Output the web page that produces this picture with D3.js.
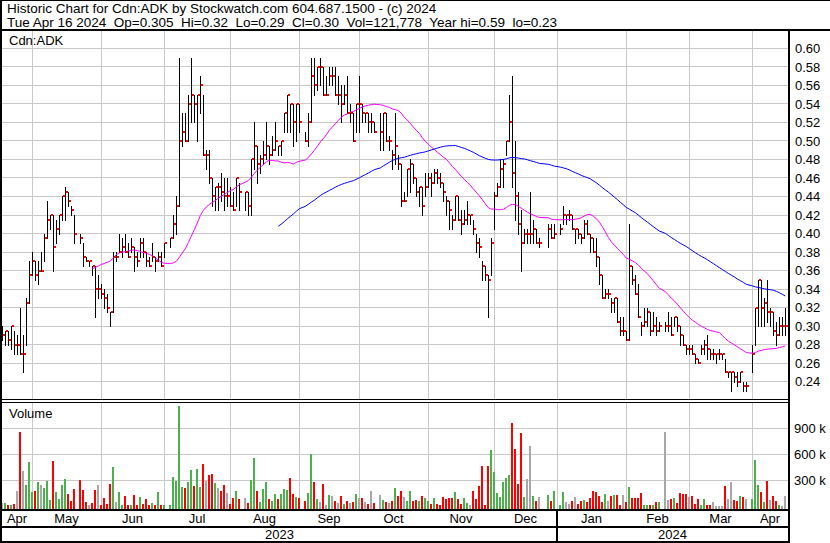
<!DOCTYPE html>
<html><head><meta charset="utf-8">
<script src="https://cdn.jsdelivr.net/npm/d3@7"></script>
<style>
body{margin:0;background:#fff}
svg{display:block}
text{font-family:Arial,"Liberation Sans",sans-serif;fill:#000}
</style>
</head><body><svg id="c" width="830" height="543"></svg>
<script>
// ---------------- DATA ----------------
const startDate = "2023-04-17"; // first trading weekday shown
const high = [
.30,.295,.295,.30,.295,.29,.32,.29,.33,.37,
.38,.37,.37,.38,.40,.435,.42,.42,.415,.42,
.44,.45,.445,.43,.42,null,.40,.39,.375,.37,
.365,.365,.355,.345,.34,.335,.315,.38,.38,.40,
.395,.40,.39,.395,.385,.38,.395,.395,.38,.375,
.39,.375,.38,.38,.39,null,.395,.42,.44,.59,
.53,.53,.55,.59,.55,.55,.57,.55,.49,.49,
.46,.45,.455,.465,.46,.46,.45,.445,.46,.455,
null,.445,.445,.48,.52,.495,.485,.50,.52,.495,
.505,.52,.495,.50,.53,.55,.54,.54,.54,.54,
null,.51,.53,.59,.59,.58,.59,.58,.57,.58,
.58,.58,.57,.56,.56,.57,.54,.53,.54,.57,
.54,.53,.53,.53,.52,null,.53,.53,.53,.505,
.49,.53,.485,.475,.445,.47,.48,.475,.46,.45,
.45,.465,.465,.465,.47,.47,.465,.455,.44,.435,
.42,.44,.44,.425,.425,.435,.42,.415,.40,.395,
.37,.365,.355,.395,.445,.455,.48,.48,.50,.55,
.57,.50,.445,.425,.405,.405,.445,.415,.405,.395,
null,null,.41,.41,.41,null,.41,.43,.42,.425,
.42,.405,.405,.40,.415,.415,.40,.395,.395,.375,
.355,.34,.34,.33,.33,.33,.31,.31,.295,.41,
.365,.355,.345,.305,.32,.32,.315,.315,.31,.305,
null,.305,.315,.31,.31,.31,.30,.29,.28,.28,
.28,.27,.265,.28,.285,.29,.275,.275,.27,.275,
.27,.265,.25,.25,.25,.25,.25,.24,.24,null,
.28,.32,.35,.35,.33,.35,.32,.315,.305,.31,
.31,.32];
const low = [
.285,.28,.28,.275,.27,.27,.27,.25,.28,.325,
.355,.35,.345,.36,.37,.395,.405,.36,.39,.40,
.415,.415,.43,.42,.39,null,.39,.365,.37,.365,
.355,.31,.33,.33,.32,.315,.30,.315,.37,.38,
.375,.38,.375,.38,.36,.365,.375,.375,.365,.365,
.37,.36,.37,.365,.375,null,.385,.395,.40,.43,
.495,.50,.50,.52,.52,.50,.53,.485,.47,.455,
.43,.425,.425,.435,.425,.43,.43,.425,.43,.425,
null,.425,.42,.42,.47,.455,.465,.475,.48,.475,
.485,.49,.485,.485,.51,.51,.51,.495,.50,.51,
null,.50,.495,.52,.55,.555,.56,.55,.55,.56,
.56,.55,.54,.52,.54,.53,.52,.50,.51,.51,
.52,.52,.51,.51,.51,null,.49,.49,.50,.49,
.47,.475,.47,.43,.435,.44,.445,.455,.44,.43,
.42,.44,.45,.44,.455,.455,.45,.435,.42,.405,
.405,.415,.415,.40,.41,.41,.41,.40,.38,.375,
.35,.35,.31,.355,.405,.44,.45,.45,.485,.50,
.45,.415,.40,.36,.39,.39,.39,.39,.39,.385,
null,null,.385,.395,.395,null,.40,.41,.41,.415,
.405,.39,.395,.39,.395,.40,.38,.38,.365,.345,
.33,.33,.33,.315,.315,.305,.29,.29,.285,.285,
.345,.335,.31,.29,.30,.30,.29,.295,.29,.295,
null,.295,.295,.29,.30,.295,.28,.28,.27,.27,
.27,.26,.26,.27,.27,.265,.265,.265,.26,.265,
.265,.25,.245,.23,.24,.235,.24,.23,.23,null,
.25,.28,.30,.30,.30,.305,.30,.29,.28,.29,
.29,.29];
const close = [
.29,.295,.285,.30,.28,.28,.27,.27,.325,.355,
.37,.355,.36,.36,.395,.415,.42,.385,.405,.42,
.44,.445,.435,.425,.40,null,.395,.375,.37,.37,
.365,.34,.34,.335,.33,.32,.315,.375,.375,.38,
.385,.38,.375,.385,.375,.37,.39,.38,.37,.365,
.375,.37,.375,.365,.39,null,.395,.41,.43,.50,
.51,.50,.54,.55,.54,.55,.56,.485,.485,.46,
.44,.45,.45,.445,.44,.44,.43,.425,.46,.445,
null,.445,.43,.48,.495,.475,.48,.485,.495,.485,
.49,.50,.495,.50,.53,.55,.54,.52,.54,.52,
null,.50,.52,.57,.56,.58,.58,.55,.55,.57,
.57,.55,.55,.54,.55,.53,.53,.50,.54,.54,
.53,.53,.52,.52,.51,null,.51,.53,.50,.50,
.485,.495,.475,.435,.435,.47,.475,.46,.445,.45,
.43,.45,.46,.455,.465,.46,.455,.445,.435,.425,
.415,.44,.415,.41,.415,.42,.42,.405,.39,.385,
.365,.355,.35,.39,.44,.45,.47,.475,.50,.52,
.465,.44,.41,.39,.40,.40,.40,.405,.39,.39,
null,null,.405,.395,.40,null,.405,.42,.42,.42,
.405,.405,.40,.395,.41,.40,.395,.38,.375,.355,
.33,.335,.335,.325,.33,.305,.295,.295,.285,.365,
.35,.335,.31,.30,.305,.315,.295,.30,.295,.30,
null,.30,.30,.29,.31,.30,.29,.28,.275,.275,
.27,.265,.26,.275,.28,.275,.27,.27,.27,.27,
.27,.25,.25,.25,.245,.24,.25,.235,.235,null,
.27,.32,.35,.32,.325,.315,.315,.295,.29,.30,
.30,.30];
const volumeK = [
35,35,12,10,30,177,862,408,246,512,
165,177,277,246,212,292,73,523,165,85,
246,315,142,62,200,null,304,188,50,15,
38,188,246,15,96,27,258,454,50,165,
15,119,10,10,131,10,108,27,85,10,
38,20,165,20,10,null,20,338,292,1158,
223,212,281,419,235,431,223,488,292,362,
373,269,212,177,246,154,27,96,177,85,
null,96,38,304,558,177,50,200,281,85,
62,142,85,142,200,188,327,142,108,96,
null,62,154,604,281,85,50,258,10,131,
119,62,38,119,27,62,38,50,142,96,
96,50,27,177,38,null,131,73,50,38,
62,212,119,177,108,62,177,62,73,62,
119,96,62,27,96,27,12,108,85,96,
96,165,85,30,96,38,15,177,85,235,
465,12,465,650,396,154,108,281,327,362,
962,662,258,846,108,315,696,119,62,108,
null,null,131,62,177,null,12,165,50,27,
62,108,27,62,73,50,96,177,165,119,
50,142,62,119,131,131,12,131,50,223,
96,96,96,154,15,12,15,12,50,50,
null,854,73,85,96,38,154,142,142,108,
119,27,85,12,85,15,12,50,8,8,
8,235,85,281,73,62,119,108,85,null,
85,535,246,165,53,292,73,119,61,15,
8,121.778];
const maPeriods = [30, 90];
const monthNames = ["Apr","May","Jun","Jul","Aug","Sep","Oct","Nov","Dec","Jan","Feb","Mar","Apr"];
const monthStarts = ["2023-05-01","2023-06-01","2023-07-01","2023-08-01","2023-09-01","2023-10-01","2023-11-01","2023-12-01","2024-01-01","2024-02-01","2024-03-01","2024-04-01"];
const yearNames = ["2023","2024"];
const priceTicks = [0.24,0.26,0.28,0.30,0.32,0.34,0.36,0.38,0.40,0.42,0.44,0.46,0.48,0.50,0.52,0.54,0.56,0.58,0.60];
const volTicks = [300000,600000,900000];
const header1 = "Historic Chart for Cdn:ADK by Stockwatch.com 604.687.1500 - (c) 2024";
const header2 = "Tue Apr 16 2024  Op=0.305  Hi=0.32  Lo=0.29  Cl=0.30  Vol=121,778  Year hi=0.59  lo=0.23";
const symbolLabel = "Cdn:ADK";
const volumeLabel = "Volume";

// ---------------- CHART ----------------
const svg = d3.select("#c");
const n = close.length;
const parse = d3.timeParse("%Y-%m-%d");
const dates = [];
for (let d = parse(startDate); dates.length < n; d = d3.timeDay.offset(d, 1)) {
  const wd = d.getDay(); if (wd !== 0 && wd !== 6) dates.push(d);
}
const x = d3.scaleLinear().domain([0, n - 1]).range([2.3, 2.3 + 3 * (n - 1)]);
const col = i => Math.floor(x(i));
const y = d3.scaleLinear().domain([0.24, 0.60]).range([381.7, 48.3]);
const yv = d3.scaleLinear().domain([0, 900000]).range([506.3, 428.3]);
const GRID = "#c8c8c8";
const RIGHT = 788;

// month boundaries: last weekday on/before the 1st of each month
const bIdx = monthStarts.map(s => d3.bisectRight(dates, parse(s)) - 1);
const bCols = bIdx.map(col);

const grid = svg.append("g").attr("stroke", GRID).attr("stroke-width", 1).attr("shape-rendering", "crispEdges");
priceTicks.forEach(t => {
  const yy = Math.floor(y(t)) + 0.5;
  grid.append("line").attr("x1", 2).attr("x2", RIGHT).attr("y1", yy).attr("y2", yy);
});
volTicks.forEach(v => {
  const yy = Math.floor(yv(v)) + 0.5;
  grid.append("line").attr("x1", 2).attr("x2", RIGHT).attr("y1", yy).attr("y2", yy);
});
bCols.forEach(c => {
  grid.append("line").attr("x1", c + 0.5).attr("x2", c + 0.5).attr("y1", 31).attr("y2", 399);
  grid.append("line").attr("x1", c + 0.5).attr("x2", c + 0.5).attr("y1", 403).attr("y2", 509);
});

// volume bars
const idx = d3.range(n).filter(i => close[i] != null);
const prevClose = {};
idx.forEach((i, k) => { prevClose[i] = k > 0 ? close[idx[k - 1]] : close[i]; });
const volColor = i => close[i] > prevClose[i] + 1e-9 ? "#4cb04c" : (close[i] < prevClose[i] - 1e-9 ? "#ff0000" : "#a8a8a8");
svg.append("g").attr("shape-rendering", "crispEdges").selectAll("rect").data(idx).join("rect")
  .attr("x", i => col(i) - 1).attr("width", 2)
  .attr("y", i => Math.max(403, Math.round(yv(volumeK[i] * 1000))))
  .attr("height", i => 509 - Math.max(403, Math.round(yv(volumeK[i] * 1000))))
  .attr("fill", volColor);

// price bars (high-low)
svg.append("g").attr("shape-rendering", "crispEdges").selectAll("rect").data(idx).join("rect")
  .attr("x", i => col(i)).attr("width", 1)
  .attr("y", i => Math.round(y(high[i])))
  .attr("height", i => Math.max(1, Math.round(y(low[i])) - Math.round(y(high[i])) + 1))
  .attr("fill", "#000");

// moving averages
const maColors = ["#ff00ff", "#0000ff"];
maPeriods.forEach((p, k) => {
  const pts = [];
  idx.forEach((i, j) => {
    if (j >= p - 1) pts.push([i, d3.mean(idx.slice(j - p + 1, j + 1), t => close[t])]);
  });
  svg.append("path").datum(pts)
    .attr("d", d3.line().x(d => x(d[0])).y(d => y(d[1])))
    .attr("fill", "none").attr("stroke", maColors[k]).attr("stroke-width", 1);
});

// close ticks
svg.append("g").attr("shape-rendering", "crispEdges").selectAll("rect").data(idx).join("rect")
  .attr("x", i => col(i) + 1).attr("width", 2)
  .attr("y", i => Math.round(y(close[i])) - 1).attr("height", 2)
  .attr("fill", "#ff0000");

// frame
const frame = svg.append("g").attr("fill", "#000").attr("shape-rendering", "crispEdges");
[[0, 0, 830, 1], [0, 29, 830, 2], [0, 0, 2, 543], [RIGHT, 29, 2, 514],
 [0, 399, RIGHT + 2, 1], [0, 402, RIGHT + 2, 1], [0, 509, RIGHT + 2, 2],
 [0, 526, RIGHT + 2, 2], [0, 541, RIGHT + 2, 2]].forEach(r =>
  frame.append("rect").attr("x", r[0]).attr("y", r[1]).attr("width", r[2]).attr("height", r[3]));
// year separator at January boundary
const janCol = bCols[monthNames.indexOf("Jan") - 1];
frame.append("rect").attr("x", janCol - 1).attr("y", 511).attr("width", 2).attr("height", 30);

// text
const T = (s, xx, yy, opts = {}) => svg.append("text").attr("x", xx).attr("y", yy)
  .attr("font-size", opts.size || 13).attr("text-anchor", opts.anchor || "start")
  .attr("dy", opts.dy || null).attr("xml:space", "preserve").style("white-space", "pre").text(s);
T(header1, 7, 13, { size: 13.5 });
T(header2, 7, 27, { size: 13.5 });
T(symbolLabel, 9, 45);
T(volumeLabel, 9, 418);
priceTicks.forEach(t => T(d3.format(".2f")(t), 795, y(t), { dy: "0.36em" }));
volTicks.forEach(v => T((v / 1000) + " k", 794, yv(v), { dy: "0.36em" }));
const edges = [2, ...bCols, RIGHT];
monthNames.forEach((m, k) => T(m, (edges[k] + edges[k + 1]) / 2, 523, { anchor: "middle" }));
const yrEdges = [2, janCol, RIGHT];
yearNames.forEach((s, k) => T(s, (yrEdges[k] + yrEdges[k + 1]) / 2, 539, { anchor: "middle" }));
</script>
</body></html>
